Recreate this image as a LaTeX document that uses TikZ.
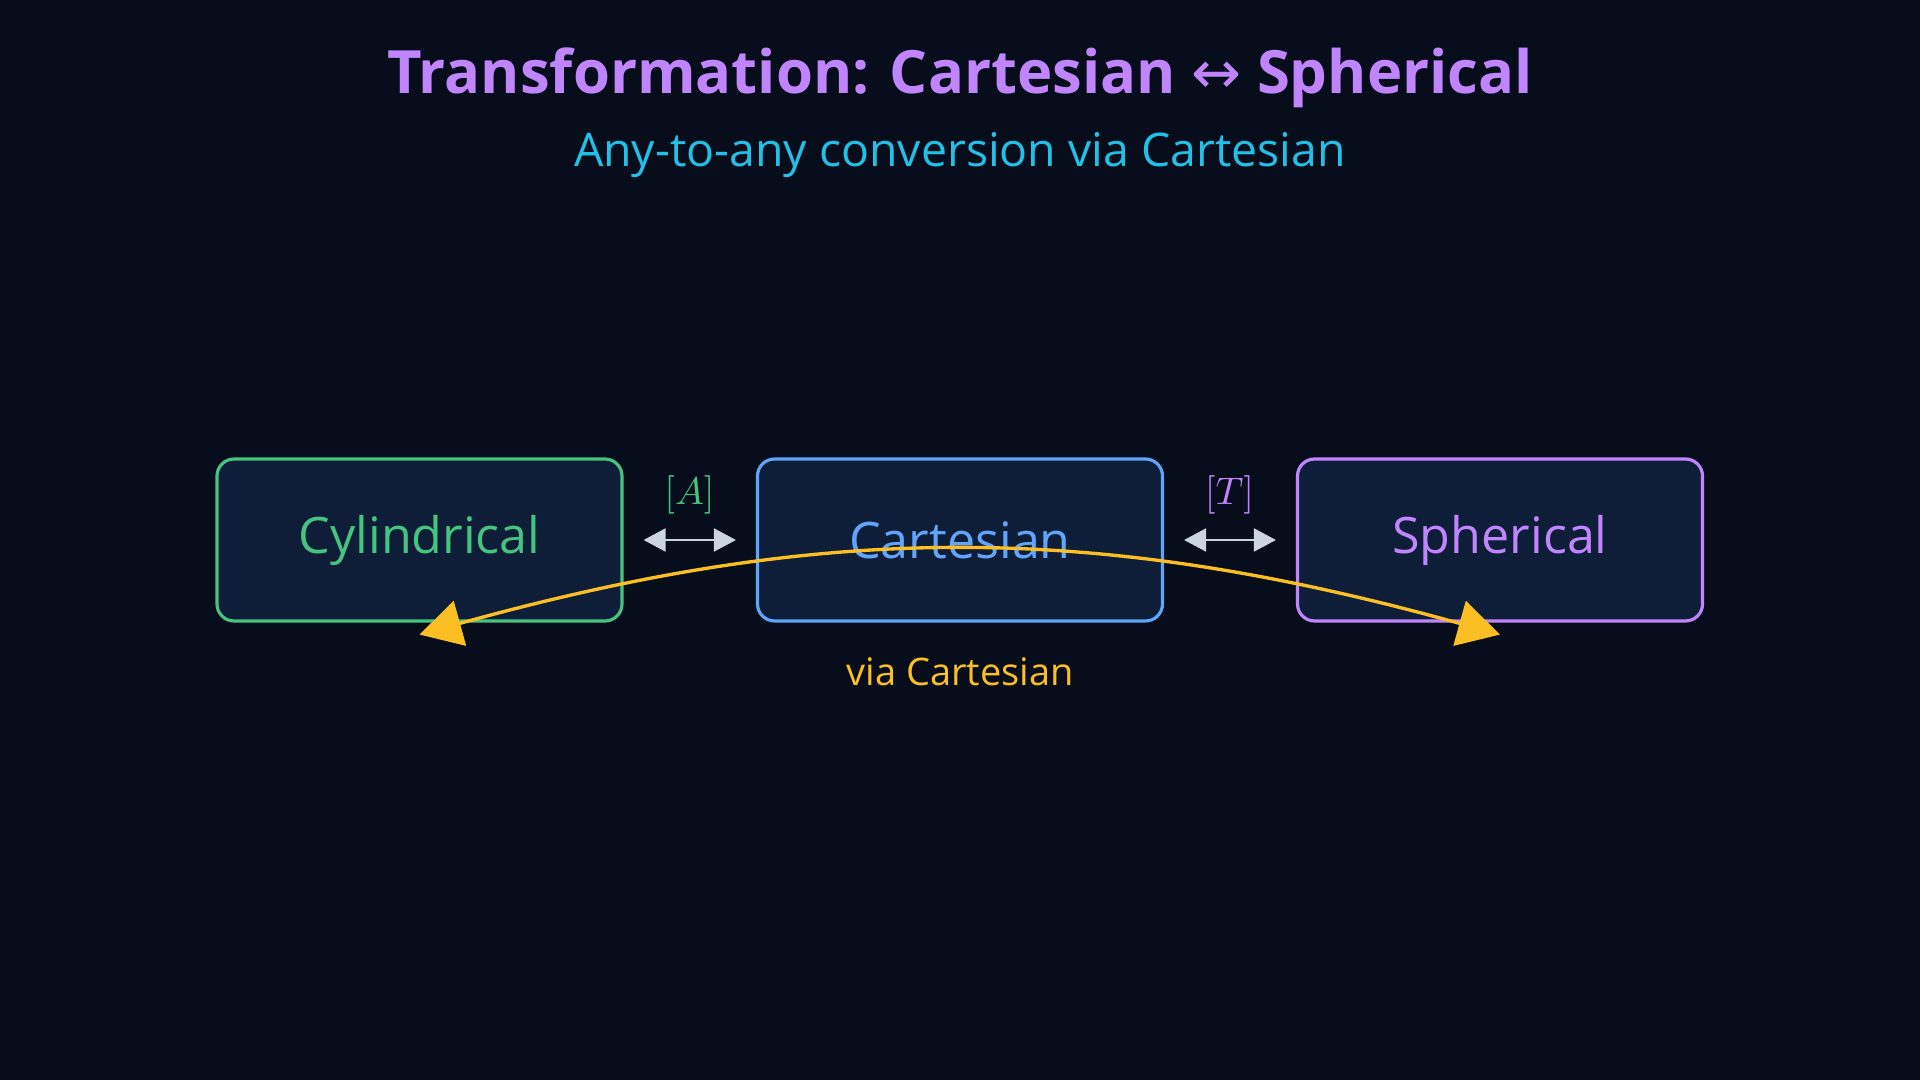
\documentclass[tikz,border=0pt]{standalone}
\usepackage{fontspec}
\setmainfont{Open Sans}
\newfontfamily\symfont{DejaVu Sans}
\usepackage{tikz}
\usetikzlibrary{positioning, calc}
\usetikzlibrary{arrows.meta}
\definecolor{bgcol}{HTML}{070D1A}
\definecolor{boxfill}{HTML}{0F1E38}
\definecolor{cylcol}{HTML}{45C47E}
\definecolor{cartcol}{HTML}{60A5FA}
\definecolor{sphcol}{HTML}{C084FC}
\definecolor{subcol}{HTML}{22C0E6}
\definecolor{viacol}{HTML}{FBBF24}
\definecolor{linkcol}{HTML}{CBD5E1}

\begin{document}
\begin{tikzpicture}
	\def \rowht{5.4cm}
	\def \labelht{5.85cm}
	\tikzstyle{c-node}=[rounded corners=1.7mm,line width=0.9pt,fill=boxfill,minimum width=4.05cm,minimum height=1.62cm,font=\fontsize{14.3}{17}\selectfont]
	\tikzstyle{link}=[draw=linkcol,line width=0.6pt,{Triangle[length=2.2mm,width=2.3mm]}-{Triangle[length=2.2mm,width=2.3mm]},shorten >=2.0mm,shorten <=2.0mm]
	\tikzstyle{annot}=[font=\fontsize{10.8}{13}\selectfont]
	% background
	\fill[bgcol] (0,0) rectangle (19.2,10.8);
	\useasboundingbox (0,0) rectangle (19.2,10.8);
	% titles
	\node[text=sphcol,font=\fontsize{17}{20}\selectfont\bfseries] (title) at (9.6cm,10.02cm) {Transformation: Cartesian {\symfont\mdseries ↔} Spherical};
	\node[text=subcol,font=\fontsize{13.2}{16}\selectfont] (subtitle) at (9.6cm,9.25cm) {Any-to-any conversion via Cartesian};
	
	% systems
	\node[c-node,draw=cylcol,text=cylcol] 	(cyl)	at (4.195cm,\rowht)	{Cylindrical};
	\node[c-node,draw=cartcol,text=cartcol] 	(cart)	at (9.6cm,\rowht)	{Cartesian};
	\node[c-node,draw=sphcol,text=sphcol] 	(sph)	at (15.0cm,\rowht)	{Spherical};
	
	% matrices
	\node[text=cylcol,font=\fontsize{10.5}{12}\selectfont] 	(amat)	at (6.895cm,\labelht)	{$[A]$};
	\node[text=sphcol,font=\fontsize{10.5}{12}\selectfont] 	(tmat)	at (12.295cm,\labelht)	{$[T]$};
	
	\path
		(cyl)	edge[link]	(cart)
		(cart)	edge[link]	(sph);
	
	% any-to-any
	\draw[viacol,line width=0.95pt,{Triangle[length=4.2mm,width=4.6mm]}-{Triangle[length=4.2mm,width=4.6mm]}]
		([yshift=-1.2mm]cyl.south) to[bend left=15.5] ([yshift=-1.2mm]sph.south);
	\node[annot,text=viacol] (via) at (9.6cm,4.08cm) {via Cartesian};
\end{tikzpicture}
\end{document}
